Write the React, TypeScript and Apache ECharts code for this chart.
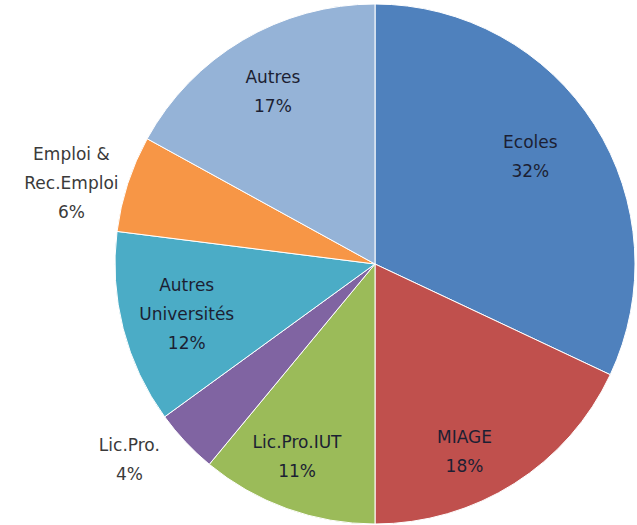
import React, { useEffect, useRef } from "react";
import * as echarts from "echarts";

const categories = [
  "Ecoles",
  "MIAGE",
  "Lic.Pro.IUT",
  "Lic.Pro.",
  "Autres\nUniversités",
  "Emploi &\nRec.Emploi",
  "Autres",
];
const values = [32, 18, 11, 4, 12, 6, 17];
const colors = ["#4F81BD", "#C0504D", "#9BBB59", "#8064A2", "#4BACC6", "#F79646", "#95B3D7"];
const outsideLabels = ["Lic.Pro.", "Emploi &\nRec.Emploi"];
const labelShifts: Record<string, number[]> = {
  Ecoles: [-14, 0],
  MIAGE: [-18, 18],
  "Lic.Pro.IUT": [-10, 4],
  "Autres\nUniversités": [6, 0],
  "Lic.Pro.": [-16, -20],
  "Emploi &\nRec.Emploi": [-4, 16],
};

export default function App() {
  const ref = useRef<HTMLDivElement>(null);
  useEffect(() => {
    if (!ref.current) return;
    const chart = echarts.init(ref.current, null, { renderer: "svg" });
    const R = 260;
    const cx = 375;
    const cy = 264;
    const font = {
      fontFamily: "DejaVu Sans",
      fontSize: 17,
      lineHeight: 29,
    };
    const base = categories.map((name, i) => ({ name, value: values[i] }));
    const labelData = (outside: boolean) =>
      base.map((d) => ({
        ...d,
        label: {
          show: outsideLabels.includes(d.name) === outside,
          offset: labelShifts[d.name] || [0, 0],
        },
      }));
    chart.setOption({
      animation: false,
      series: [
        {
          type: "pie",
          center: [cx, cy],
          radius: [0, R],
          silent: true,
          label: { show: false },
          labelLine: { show: false },
          itemStyle: { borderColor: "#ffffff", borderWidth: 1 },
          data: base.map((d, i) => ({ ...d, itemStyle: { color: colors[i] } })),
        },
        {
          type: "pie",
          center: [cx, cy],
          radius: [R * 0.52, R],
          silent: true,
          itemStyle: { color: "transparent" },
          labelLine: { show: false },
          label: {
            show: true,
            position: "inside",
            formatter: "{b}\n{d}%",
            color: "#1c1f33",
            ...font,
          },
          data: labelData(false),
        },
        {
          type: "pie",
          center: [cx, cy],
          radius: [R * 1.1, R * 1.3],
          silent: true,
          itemStyle: { color: "transparent" },
          labelLine: { show: false },
          label: {
            show: true,
            position: "inside",
            formatter: "{b}\n{d}%",
            color: "#3a3a3a",
            ...font,
          },
          data: labelData(true),
        },
      ],
    });
    return () => chart.dispose();
  }, []);
  return (
    <div
      ref={ref}
      style={{ position: "fixed", left: 0, top: 0, width: 637, height: 525, background: "#ffffff" }}
    />
  );
}
